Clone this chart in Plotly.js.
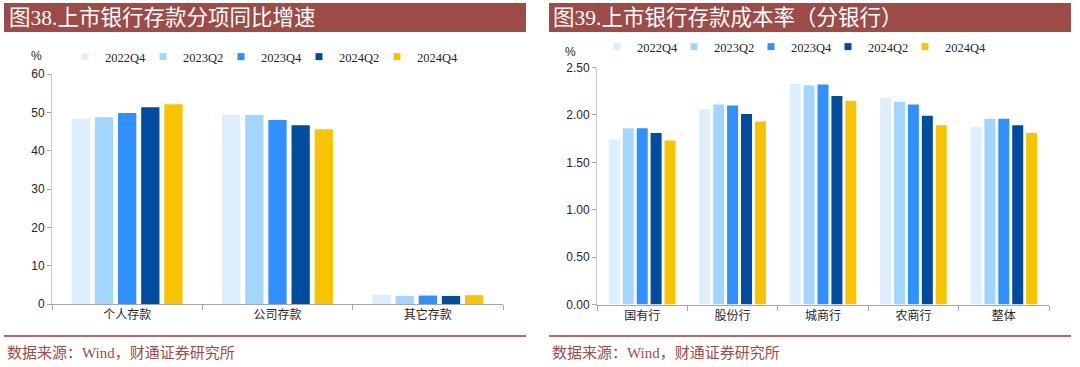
<!DOCTYPE html>
<html>
<head>
<meta charset="utf-8">
<script src="https://cdn.plot.ly/plotly-3.0.1.min.js"></script>
<style>html,body{margin:0;padding:0;background:#fff;}#chart{width:1080px;height:367px;}</style>
</head>
<body>
<div id="chart"></div>
<script>
// ---- data ----
const seriesNames = ['2022Q4', '2023Q2', '2023Q4', '2024Q2', '2024Q4'];
const seriesColors = ['#ddeefd', '#a3d6fe', '#3091fe', '#004c9f', '#f8c400'];

const categoriesLeft = ['个人存款', '公司存款', '其它存款'];
const left2022Q4 = [48.3, 49.4, 2.4];
const left2023Q2 = [48.7, 49.3, 2.1];
const left2023Q4 = [49.8, 48.0, 2.2];
const left2024Q2 = [51.3, 46.6, 2.1];
const left2024Q4 = [52.1, 45.6, 2.3];

const categoriesRight = ['国有行', '股份行', '城商行', '农商行', '整体'];
const right2022Q4 = [1.74, 2.06, 2.33, 2.18, 1.87];
const right2023Q2 = [1.86, 2.11, 2.31, 2.14, 1.96];
const right2023Q4 = [1.86, 2.10, 2.32, 2.11, 1.96];
const right2024Q2 = [1.81, 2.01, 2.20, 1.99, 1.89];
const right2024Q4 = [1.73, 1.93, 2.15, 1.89, 1.81];

const leftTicks = [0, 10, 20, 30, 40, 50, 60];
const rightTicks = [0, 0.5, 1.0, 1.5, 2.0, 2.5];

const titleLeft = '图38.上市银行存款分项同比增速';
const titleRight = '图39.上市银行存款成本率（分银行）';
const sourceText = '数据来源：Wind，财通证券研究所';

// ---- build ----
const W = 1080, H = 367;
const px = v => v / W;
const py = v => 1 - v / H;

const leftVals = [left2022Q4, left2023Q2, left2023Q4, left2024Q2, left2024Q4];
const rightVals = [right2022Q4, right2023Q2, right2023Q4, right2024Q2, right2024Q4];

const traces = [];
seriesNames.forEach((n, i) => {
  traces.push({type: 'bar', name: n, x: categoriesLeft, y: leftVals[i], xaxis: 'x', yaxis: 'y',
    marker: {color: seriesColors[i]}, showlegend: false, hoverinfo: 'x+y+name'});
});
seriesNames.forEach((n, i) => {
  traces.push({type: 'bar', name: n, x: categoriesRight, y: rightVals[i], xaxis: 'x2', yaxis: 'y2',
    marker: {color: seriesColors[i]}, showlegend: false, hoverinfo: 'x+y+name'});
});
// legend entries (small square symbols)
['legend', 'legend2'].forEach((lg, k) => {
  const xa = k === 0 ? 'x' : 'x2', ya = k === 0 ? 'y' : 'y2';
  seriesNames.forEach((n, i) => {
    traces.push({type: 'scatter', mode: 'markers', name: n, x: [null], y: [null], xaxis: xa, yaxis: ya,
      marker: {symbol: 'square', size: 7, color: seriesColors[i]}, legend: lg, showlegend: true});
  });
  // invisible spacer entry so the last label is not clipped
  traces.push({type: 'scatter', mode: 'markers', name: ' ', x: [null], y: [null], xaxis: xa, yaxis: ya,
    marker: {symbol: 'square', size: 1, color: 'rgba(0,0,0,0)'}, legend: lg, showlegend: true});
});

const axisGrey = '#a6a6a6';
const tickFont = {family: 'Liberation Sans, Arial, sans-serif', size: 12, color: '#262626'};
const catFont = {family: 'Noto Sans CJK SC, sans-serif', size: 12, color: '#262626'};
const legendFont = {family: 'Liberation Serif, Times New Roman, serif', size: 12.5, color: '#262626'};
const titleFontFamily = 'Liberation Serif, Noto Sans CJK SC, serif';

const xCommon = {type: 'category', showline: true, linecolor: axisGrey, linewidth: 1,
  ticks: 'outside', tickson: 'boundaries', ticklen: 5, tickcolor: axisGrey,
  showgrid: false, zeroline: false, tickfont: catFont, fixedrange: true};
const yCommon = {showline: true, linecolor: '#c8c8c8', linewidth: 1, ticks: 'outside', ticklen: 4,
  tickcolor: axisGrey, showgrid: false, zeroline: false, tickfont: tickFont, fixedrange: true};

const layout = {
  width: W, height: H,
  margin: {l: 0, r: 0, t: 0, b: 0, autoexpand: false},
  paper_bgcolor: '#ffffff', plot_bgcolor: '#ffffff',
  barmode: 'group', bargap: 0.23, bargroupgap: 0.21,
  xaxis: Object.assign({}, xCommon, {domain: [px(52), px(503)], anchor: 'y'}),
  yaxis: Object.assign({}, yCommon, {domain: [py(304), py(74)], anchor: 'x', range: [0, 60],
    tickmode: 'array', tickvals: leftTicks, ticktext: leftTicks.map(String)}),
  xaxis2: Object.assign({}, xCommon, {domain: [px(597), px(1049)], anchor: 'y2'}),
  yaxis2: Object.assign({}, yCommon, {domain: [py(304.5), py(67.5)], anchor: 'x2', range: [0, 2.5],
    tickmode: 'array', tickvals: rightTicks, ticktext: rightTicks.map(v => v.toFixed(2))}),
  legend: {orientation: 'h', xref: 'container', yref: 'container', x: px(65), xanchor: 'left', y: py(57), yanchor: 'middle',
    font: legendFont, entrywidth: 33, entrywidthmode: 'pixels', itemwidth: 30,
    bgcolor: 'rgba(0,0,0,0)', traceorder: 'normal'},
  legend2: {orientation: 'h', xref: 'container', yref: 'container', x: px(597), xanchor: 'left', y: py(47), yanchor: 'middle',
    font: legendFont, entrywidth: 32, entrywidthmode: 'pixels', itemwidth: 30,
    bgcolor: 'rgba(0,0,0,0)', traceorder: 'normal'},
  shapes: [
    {type: 'rect', xref: 'paper', yref: 'paper', x0: px(4), x1: px(526), y0: py(32), y1: py(3),
      fillcolor: '#9d4b47', line: {width: 0}, layer: 'below'},
    {type: 'rect', xref: 'paper', yref: 'paper', x0: px(549), x1: px(1071), y0: py(32), y1: py(3),
      fillcolor: '#9d4b47', line: {width: 0}, layer: 'below'},
    {type: 'line', xref: 'paper', yref: 'paper', x0: px(4), x1: px(526), y0: py(336), y1: py(336),
      line: {color: '#b86a66', width: 2}},
    {type: 'line', xref: 'paper', yref: 'paper', x0: px(549), x1: px(1071), y0: py(336), y1: py(336),
      line: {color: '#b86a66', width: 2}}
  ],
  annotations: [
    {text: titleLeft, xref: 'paper', yref: 'paper', x: px(7), y: py(18), xanchor: 'left', yanchor: 'middle',
      showarrow: false, font: {family: titleFontFamily, size: 21.5, color: '#ffffff'}},
    {text: titleRight, xref: 'paper', yref: 'paper', x: px(551), y: py(18), xanchor: 'left', yanchor: 'middle',
      showarrow: false, font: {family: titleFontFamily, size: 21.5, color: '#ffffff'}},
    {text: sourceText, xref: 'paper', yref: 'paper', x: px(5), y: py(353), xanchor: 'left', yanchor: 'middle',
      showarrow: false, font: {family: titleFontFamily, size: 15, color: '#9d4b47'}},
    {text: sourceText, xref: 'paper', yref: 'paper', x: px(550), y: py(353), xanchor: 'left', yanchor: 'middle',
      showarrow: false, font: {family: titleFontFamily, size: 15, color: '#9d4b47'}},
    {text: '%', xref: 'paper', yref: 'paper', x: px(36), y: py(56), xanchor: 'center', yanchor: 'middle',
      showarrow: false, font: tickFont},
    {text: '%', xref: 'paper', yref: 'paper', x: px(570), y: py(52), xanchor: 'center', yanchor: 'middle',
      showarrow: false, font: tickFont}
  ]
};

Plotly.newPlot('chart', traces, layout, {displayModeBar: false, staticPlot: true});
</script>
</body>
</html>
